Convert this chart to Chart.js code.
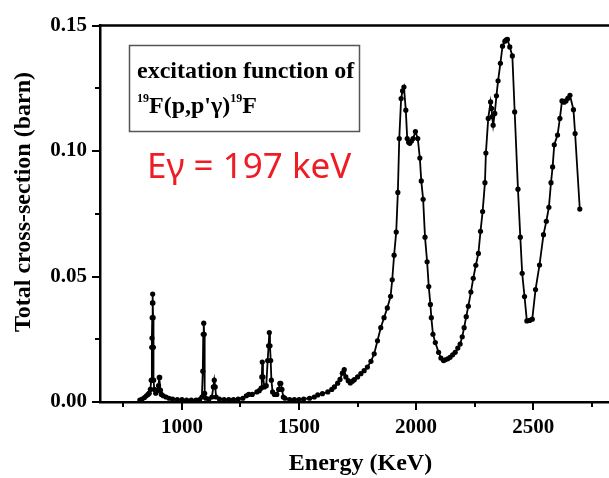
<!DOCTYPE html>
<html><head><meta charset="utf-8">
<script src="https://cdn.jsdelivr.net/npm/chart.js@4"></script>
<style>html,body{margin:0;padding:0;background:#fff;overflow:hidden;width:609px;height:478px}#wrap{width:625px;height:478px;position:relative}</style>
</head><body><div id="wrap"><canvas id="c"></canvas></div>
<script>
// Energy (keV)
const energy = [
  820,830,840,848,855,860,865,869,871,872,873,874,875,876,877,878,879,882,888,895,900,903,905,908,912,920,932,945,960,980,
  1000,1020,1040,1060,1075,1085,1089,1091,1093,1095,1097,1102,1115,1128,1134,1138,1142,1146,1160,1180,1200,1220,1240,1260,1275,1285,1300,1320,1330,1338,
  1341,1343,1346,1352,1360,1366,1370,1373,1376,1379,1382,1387,1395,1405,1413,1418,1422,1427,1433,1440,1460,1480,
  1500,1520,1545,1565,1580,1600,1623,1640,1651,1665,1675,1685,1693,1700,1710,1719,1728,1736,1750,1764,1778,1792,1807,1821,1835,1849,1863,1877,1891,1898,
  1906,1915,1922,1928,1936,1942,1948,1956,1962,1968,1973,1980,1987,1997,2007,2016,2022,2030,2038,2047,2054,2061,2065,2072,2082,2096,
  2106,2117,2124,2135,2145,2156,2167,2178,2188,2197,2205,2214,2223,2234,2244,2255,2266,2275,2284,2294,
  2298,2308,2318,2322,2325,2329,2336,2343,2350,2360,2369,2379,2385,2390,2400,2411,2421,2435,2445,2453,
  2463,2473,2485,2496,2510,2527,2544,2556,2567,2576,2583,2590,2604,2614,2623,2632,2640,2648,2657,2672,2679,2699
];
// Total cross-section (barn)
const crossSection = [
  .0008,.0012,.0018,.0025,.003,.0035,.005,.0087,.0218,.0255,.0336,.0395,.043,.0395,.0336,.0218,.0087,.005,.0035,.0045,.0065,.0098,.0098,.0047,.003,.0025,.002,.0015,.0012,.001,
  .001,.0008,.0008,.0008,.001,.002,.0123,.027,.0314,.027,.0034,.0015,.0012,.002,.006,.0087,.006,.002,.0012,.001,.001,.001,.0012,.0015,.0025,.003,.003,.004,.0045,.0055,
  .010,.0159,.010,.006,.0065,.0165,.0224,.0277,.0224,.0165,.0087,.004,.003,.003,.005,.0074,.0074,.005,.002,.0015,.001,.001,
  .001,.0012,.0015,.002,.0028,.0033,.004,.005,.006,.0075,.009,.0115,.0129,.010,.0085,.0076,.0083,.0089,.010,.0113,.0125,.0139,.0162,.0192,.0244,.0296,.0336,.0375,.0421,.0487,
  .0585,.0677,.0835,.105,.1209,.124,.1255,.1163,.105,.1035,.1031,.104,.105,.1078,.105,.0972,.0881,.0808,.0657,.0559,.046,.0389,.0336,.027,.0237,.0198,
  .0175,.0165,.0168,.0172,.0178,.0188,.0198,.0215,.0231,.026,.0296,.034,.0382,.0438,.0493,.0545,.0592,.068,.0759,.0874,
  .0992,.113,.1196,.117,.1137,.1103,.115,.122,.128,.135,.1418,.1438,.1443,.1445,.1415,.1379,.1156,.0848,.0657,.0513,
  .042,.0323,.0325,.033,.0448,.0546,.0667,.072,.0776,.0874,.0937,.1025,.1064,.113,.12,.1195,.12,.121,.1222,.1165,.107,.0769
];
const xTickValues = [750,1000,1250,1500,1750,2000,2250,2500,2750];
const xMajorLabels = [1000,1500,2000,2500];
const yTickValues = [0,0.025,0.05,0.075,0.10,0.125,0.15];
const yMajorLabels = ['0.00','0.05','0.10','0.15'];
const xTitle = 'Energy (KeV)';
const yTitle = 'Total cross-section (barn)';
const boxLine1 = 'excitation function of';
const boxLine2 = [['19',true],["F(p,p'\u03B3)",false],['19',true],['F',false]];
const redLabel = 'E\u03B3 = 197 keV';

const SERIF = '"Liberation Serif","Times New Roman",serif';

const framePlugin = {
  id: 'frame',
  afterDraw(chart) {
    const ctx = chart.ctx, a = chart.chartArea;
    const xs = chart.scales.x, ys = chart.scales.y;
    ctx.save();
    ctx.strokeStyle = '#000';
    ctx.lineWidth = 2.5;
    ctx.beginPath();
    ctx.moveTo(a.left - 1.25, a.top); ctx.lineTo(a.right, a.top);
    ctx.stroke();
    ctx.lineWidth = 2;
    ctx.beginPath();
    xTickValues.forEach(v => {
      const px = Math.round(xs.getPixelForValue(v));
      const len = xMajorLabels.includes(v) ? 8 : 5;
      ctx.moveTo(px, a.bottom); ctx.lineTo(px, a.bottom + len);
    });
    yTickValues.forEach((v, i) => {
      const py = Math.round(ys.getPixelForValue(v));
      const len = i % 2 === 0 ? 8 : 5;
      ctx.moveTo(a.left, py); ctx.lineTo(a.left - len, py);
    });
    ctx.stroke();
    // y axis title
    ctx.save();
    ctx.translate(24, 202);
    ctx.rotate(-Math.PI / 2);
    ctx.fillStyle = '#000';
    ctx.font = 'bold 24px ' + SERIF;
    ctx.textAlign = 'center';
    ctx.textBaseline = 'middle';
    ctx.fillText(yTitle, 0, 0);
    ctx.restore();
    // annotation box
    ctx.strokeStyle = '#555';
    ctx.lineWidth = 1.5;
    ctx.strokeRect(129.5, 45.5, 230, 86);
    ctx.fillStyle = '#000';
    ctx.textBaseline = 'alphabetic';
    ctx.textAlign = 'left';
    ctx.font = 'bold 24px ' + SERIF;
    ctx.fillText(boxLine1, 137, 78);
    let x = 137;
    boxLine2.forEach(([t, sup]) => {
      ctx.font = (sup ? 'bold 12px ' : 'bold 24px ') + SERIF;
      ctx.fillText(t, x, sup ? 102 : 113);
      x += ctx.measureText(t).width;
    });
    ctx.fillStyle = '#ee1c25';
    ctx.font = '35px "Noto Sans"';
    ctx.fillText(redLabel, 147, 178);
    ctx.restore();
  }
};

new Chart(document.getElementById('c'), {
  type: 'line',
  data: {
    datasets: [{
      data: energy.map((e, i) => ({x: e, y: crossSection[i]})),
      borderColor: '#000',
      borderWidth: 1.8,
      pointRadius: 2.6,
      pointBackgroundColor: '#000',
      pointBorderWidth: 0,
      tension: 0,
      clip: false
    }]
  },
  options: {
    responsive: true,
    maintainAspectRatio: false,
    animation: false,
    events: [],
    layout: {padding: {top: 20, left: 0, right: 0, bottom: 0}},
    plugins: {legend: {display: false}, tooltip: {enabled: false}},
    scales: {
      x: {
        type: 'linear',
        min: 650, max: 2875,
        afterBuildTicks: s => { s.ticks = xTickValues.map(v => ({value: v})); },
        afterFit: s => { s.height = 76; },
        ticks: {
          callback: v => xMajorLabels.includes(v) ? String(v) : '',
          font: {family: SERIF, weight: 'bold', size: 21},
          color: '#000', padding: 13, maxRotation: 0, autoSkip: false
        },
        grid: {display: false, drawTicks: false},
        border: {display: true, color: '#000', width: 2.5},
        title: {display: true, text: xTitle, color: '#000',
          font: {family: SERIF, weight: 'bold', size: 24}, padding: {top: 0, bottom: 0}}
      },
      y: {
        min: 0, max: 0.15,
        afterBuildTicks: s => { s.ticks = yTickValues.map(v => ({value: v})); },
        afterFit: s => { s.width = 100; },
        ticks: {
          callback: (v, i) => i % 2 === 0 ? yMajorLabels[i / 2] : '',
          font: {family: SERIF, weight: 'bold', size: 21},
          color: '#000', padding: 13, autoSkip: false
        },
        grid: {display: false, drawTicks: false},
        border: {display: true, color: '#000', width: 2.5},
        title: {display: false}
      }
    }
  },
  plugins: [framePlugin]
});
</script>
</body></html>
